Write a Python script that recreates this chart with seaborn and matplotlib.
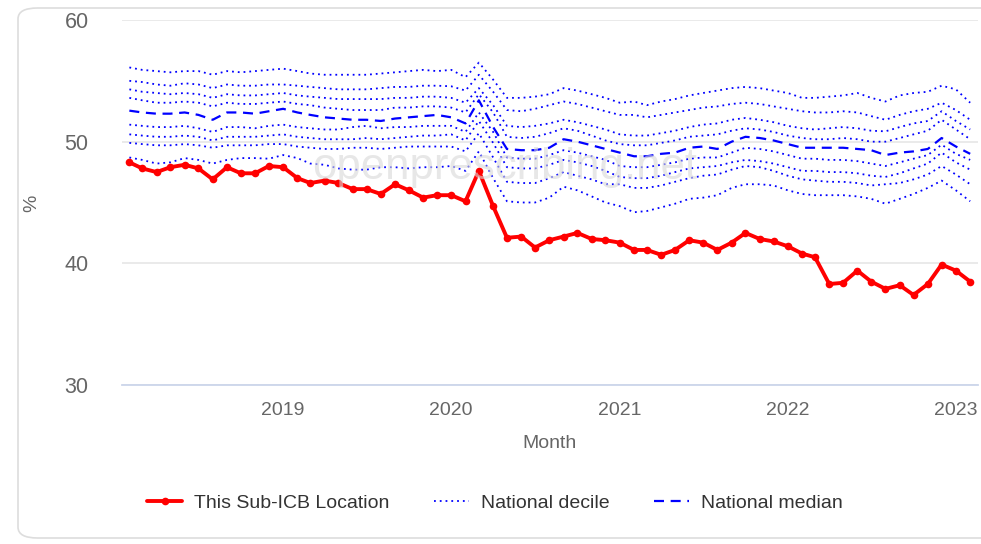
# Import library
import numpy as np
import pandas as pd
import seaborn as sns
import matplotlib.pyplot as plt
import matplotlib.dates as mdates
from matplotlib.lines import Line2D
from matplotlib.patches import FancyBboxPatch

# months shown on the chart (Feb 2018 .. Feb 2023)
months = pd.date_range('2018-02-01', '2023-02-01', freq='MS')
yearTicks = ['2019', '2020', '2021', '2022', '2023']
yTicks = [30, 40, 50, 60]

# This Sub-ICB Location (%)
local = [48.3, 47.8, 47.5, 47.9, 48.1, 47.8, 46.9, 47.9, 47.4, 47.4, 48.0,
         47.9, 47.0, 46.6, 46.8, 46.6, 46.1, 46.1, 45.7, 46.5, 46.0, 45.4, 45.6,
         45.6, 45.1, 47.6, 44.7, 42.1, 42.2, 41.3, 41.9, 42.2, 42.5, 42.0, 41.9,
         41.7, 41.1, 41.1, 40.7, 41.1, 41.9, 41.7, 41.1, 41.7, 42.5, 42.0, 41.8,
         41.4, 40.8, 40.5, 38.3, 38.4, 39.4, 38.5, 37.9, 38.2, 37.4, 38.3, 39.9,
         39.4, 38.5]

# National median
median = [52.55, 52.4, 52.3, 52.3, 52.4, 52.2, 51.8, 52.4, 52.4, 52.3, 52.5,
          52.7, 52.4, 52.2, 52.0, 51.9, 51.8, 51.8, 51.7, 51.9, 52.0, 52.1, 52.2,
          52.0, 51.5, 53.4, 51.2, 49.4, 49.3, 49.3, 49.5, 50.2, 50.0, 49.7, 49.4,
          49.1, 48.8, 48.8, 49.0, 49.1, 49.5, 49.6, 49.4, 50.0, 50.4, 50.3, 50.1,
          49.8, 49.5, 49.5, 49.5, 49.5, 49.4, 49.3, 48.9, 49.1, 49.2, 49.4, 50.3,
          49.6, 49.0]

# National deciles
p90 = [56.1, 55.9, 55.8, 55.7, 55.8, 55.8, 55.5, 55.8, 55.7, 55.8, 55.9,
       56.0, 55.8, 55.6, 55.5, 55.5, 55.5, 55.5, 55.6, 55.7, 55.8, 55.9, 55.8,
       55.9, 55.3, 56.5, 55.1, 53.6, 53.6, 53.7, 53.9, 54.4, 54.2, 53.9, 53.6,
       53.2, 53.3, 53.0, 53.3, 53.5, 53.8, 54.0, 54.2, 54.4, 54.5, 54.4, 54.2,
       54.0, 53.6, 53.6, 53.7, 53.8, 54.0, 53.6, 53.3, 53.8, 54.0, 54.1, 54.6,
       54.3, 53.2]
p80 = [55.0, 54.9, 54.7, 54.6, 54.8, 54.7, 54.4, 54.7, 54.6, 54.6, 54.7,
       54.7, 54.6, 54.5, 54.4, 54.3, 54.3, 54.3, 54.4, 54.5, 54.5, 54.6, 54.6,
       54.55, 54.2, 55.5, 54.1, 52.6, 52.5, 52.7, 53.0, 53.3, 53.1, 52.8, 52.5,
       52.2, 52.2, 52.0, 52.2, 52.4, 52.6, 52.8, 52.9, 53.1, 53.2, 53.1, 52.9,
       52.7, 52.5, 52.4, 52.4, 52.5, 52.4, 52.1, 51.8, 52.2, 52.5, 52.7, 53.2,
       52.6, 51.8]
p70 = [54.3, 54.1, 54.0, 53.9, 54.0, 53.9, 53.6, 53.9, 53.8, 53.8, 53.9,
       54.0, 53.8, 53.7, 53.6, 53.5, 53.5, 53.5, 53.5, 53.6, 53.6, 53.7, 53.7,
       53.6, 53.2, 54.4, 53.0, 51.3, 51.2, 51.3, 51.5, 51.8, 51.6, 51.3, 51.0,
       50.6, 50.5, 50.5, 50.7, 50.9, 51.2, 51.4, 51.5, 51.8, 51.95, 51.8, 51.6,
       51.3, 51.1, 51.0, 51.1, 51.2, 51.1, 50.9, 50.85, 51.2, 51.5, 51.7, 52.5,
       51.7, 51.0]
p60 = [53.6, 53.4, 53.2, 53.2, 53.3, 53.2, 52.9, 53.2, 53.1, 53.1, 53.2,
       53.3, 53.1, 53.0, 52.8, 52.7, 52.6, 52.6, 52.6, 52.8, 52.8, 52.9, 52.9,
       52.8, 52.4, 53.9, 52.4, 50.4, 50.3, 50.4, 50.7, 51.1, 50.9, 50.5, 50.1,
       49.8, 49.7, 49.7, 49.9, 50.1, 50.4, 50.5, 50.6, 50.9, 51.1, 51.0, 50.8,
       50.5, 50.3, 50.2, 50.2, 50.3, 50.2, 50.0, 50.0, 50.3, 50.6, 50.9, 51.8,
       51.0, 50.2]
p40 = [51.4, 51.3, 51.2, 51.2, 51.3, 51.1, 50.8, 51.2, 51.2, 51.1, 51.3,
       51.4, 51.2, 51.1, 51.0, 51.0, 51.2, 51.3, 51.1, 51.2, 51.2, 51.3, 51.3,
       51.3, 50.8, 52.4, 50.8, 48.7, 48.6, 48.6, 48.9, 49.3, 49.1, 48.8, 48.5,
       48.0, 47.9, 47.9, 48.1, 48.3, 48.6, 48.7, 48.7, 49.1, 49.5, 49.4, 49.2,
       48.9, 48.6, 48.6, 48.5, 48.5, 48.4, 48.2, 48.0, 48.3, 48.6, 48.9, 49.75,
       49.0, 48.5]
p30 = [50.6, 50.5, 50.4, 50.4, 50.5, 50.4, 50.1, 50.4, 50.4, 50.4, 50.5,
       50.6, 50.4, 50.3, 50.2, 50.2, 50.2, 50.3, 50.2, 50.3, 50.4, 50.5, 50.5,
       50.6, 50.1, 51.7, 49.9, 47.9, 47.8, 47.8, 48.1, 48.5, 48.3, 48.0, 47.6,
       47.1, 47.0, 47.0, 47.2, 47.5, 47.8, 47.9, 48.0, 48.3, 48.5, 48.4, 48.2,
       47.9, 47.6, 47.6, 47.5, 47.5, 47.4, 47.2, 47.1, 47.4, 47.8, 48.2, 49.1,
       48.3, 47.7]
p20 = [49.9, 49.8, 49.7, 49.7, 49.8, 49.7, 49.5, 49.7, 49.7, 49.7, 49.8,
       49.8, 49.6, 49.5, 49.4, 49.4, 49.5, 49.5, 49.4, 49.5, 49.6, 49.6, 49.6,
       49.6, 49.2, 50.7, 48.7, 46.7, 46.6, 46.6, 47.0, 47.5, 47.2, 46.9, 46.5,
       46.5, 46.2, 46.2, 46.4, 46.7, 47.0, 47.2, 47.3, 47.7, 48.0, 47.9, 47.6,
       47.2, 46.9, 46.8, 46.7, 46.7, 46.6, 46.4, 46.5, 46.6, 46.9, 47.3, 48.0,
       47.3, 46.5]
p10 = [48.7, 48.5, 48.2, 48.3, 48.65, 48.5, 48.2, 48.5, 48.65, 48.65, 48.6,
       48.9, 48.65, 48.2, 48.1, 47.8, 47.7, 47.7, 47.9, 47.9, 47.8, 47.9, 47.9,
       48.0, 47.6, 49.2, 47.0, 45.1, 45.0, 45.0, 45.4, 46.3, 46.0, 45.5, 45.0,
       44.7, 44.2, 44.3, 44.6, 44.9, 45.3, 45.4, 45.6, 46.2, 46.5, 46.5, 46.4,
       46.0, 45.7, 45.6, 45.6, 45.6, 45.5, 45.3, 44.9, 45.3, 45.7, 46.2, 46.8,
       46.0, 45.1]
deciles = [p10, p20, p30, p40, p60, p70, p80, p90]

sns.set_style('white')
plt.rcParams['font.family'] = ['Liberation Sans', 'DejaVu Sans']

fig = plt.figure(figsize=(9.81, 5.44), dpi=100)

# card background with rounded corners
card = FancyBboxPatch((18 / 981, 6 / 544), 1.2, 530 / 544,
                      boxstyle='round,pad=0,rounding_size=0.02',
                      transform=fig.transFigure, facecolor='white',
                      edgecolor='#dddddd', linewidth=1.2, zorder=0)
fig.add_artist(card)

ax = fig.add_axes([122 / 981, 1 - 385 / 544, 856 / 981, 365 / 544])
ax.set_facecolor('none')

# deciles (dotted) and median (dashed)
for d in deciles:
    sns.lineplot(x=months, y=d, ax=ax, color='#0000ff', linestyle=(0, (1, 2.2)),
                 linewidth=1.3, zorder=2)
sns.lineplot(x=months, y=median, ax=ax, color='#0000ff', linestyle=(0, (4.5, 3)),
             linewidth=1.6, zorder=3)

# local line
sns.lineplot(x=months, y=local, ax=ax, color='#ff0000', linewidth=2.8,
             marker='o', markersize=5.5, markeredgewidth=0, zorder=4)

# watermark
fig.text(505 / 981, 1 - 168 / 544, 'openprescribing.net', fontsize=31.5,
         color='#d8d8d8', alpha=0.6, ha='center', va='center', zorder=1)

ax.set_ylim(30, 60)
ax.set_yticks(yTicks)
ax.set_xlim(pd.Timestamp('2018-01-16'), pd.Timestamp('2023-02-18'))
ax.set_xticks([pd.Timestamp(y + '-01-01') for y in yearTicks])
ax.set_xticklabels(yearTicks)

ax.grid(axis='y', color='#e6e6e6', linewidth=1.2)
ax.grid(axis='x', visible=False)
for s in ['top', 'right', 'left']:
    ax.spines[s].set_visible(False)
ax.spines['bottom'].set_color('#ccd6eb')
ax.spines['bottom'].set_linewidth(1.3)
ax.tick_params(axis='x', colors='#ccd6eb', length=7, width=1.2, pad=5,
               labelcolor='#666666', labelsize=14)
ax.tick_params(axis='y', length=0, pad=24, labelcolor='#666666', labelsize=15.5)

ax.set_xlabel('Month', fontsize=14, color='#666666', labelpad=12)
ax.set_ylabel('')
fig.text(32 / 981, 1 - 203 / 544, '%', rotation=90, fontsize=14,
         color='#666666', ha='center', va='center')

handles = [
    Line2D([], [], color='#ff0000', linewidth=2.8, marker='o', markersize=5.5,
           markeredgewidth=0),
    Line2D([], [], color='#0000ff', linestyle=(0, (1, 2.2)), linewidth=1.3),
    Line2D([], [], color='#0000ff', linestyle=(0, (4.5, 3)), linewidth=1.6),
]
labels = ['This Sub-ICB Location', 'National decile', 'National median']
fig.legend(handles, labels, loc='center', bbox_to_anchor=(495 / 981, 1 - 503 / 544),
           ncol=3, frameon=False, fontsize=14, labelcolor='#333333',
           handlelength=1.8, columnspacing=2.3, handletextpad=0.6)

fig.savefig('out.png', dpi=100)
